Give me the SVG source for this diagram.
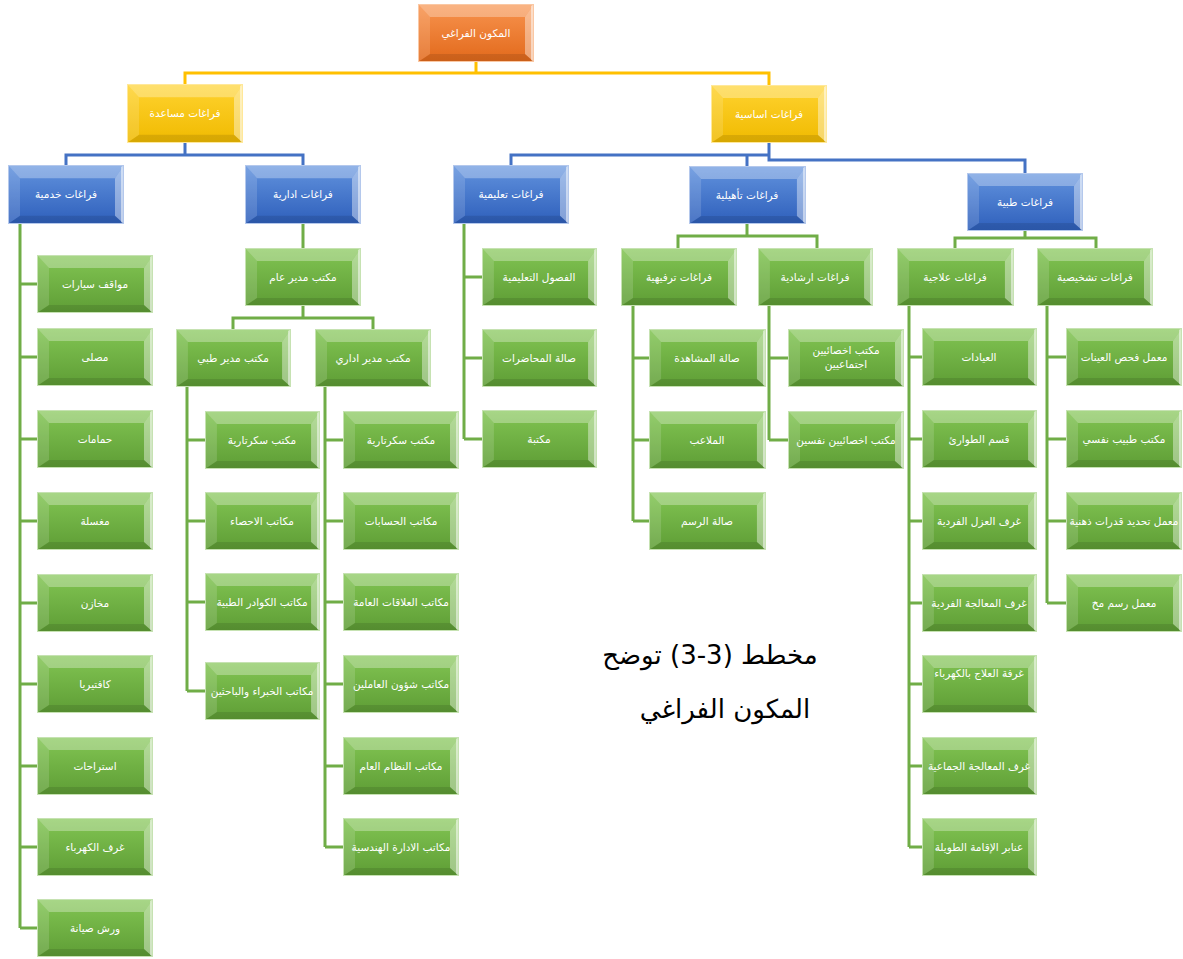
<svg xmlns="http://www.w3.org/2000/svg" xmlns:xlink="http://www.w3.org/1999/xlink" width="1183" height="959" viewBox="0 0 1183 959">
<defs>
<linearGradient id="gO" x1="0" y1="0" x2="0" y2="1"><stop offset="0" stop-color="#F8944F"/><stop offset="1" stop-color="#E2691B"/></linearGradient>
<linearGradient id="gY" x1="0" y1="0" x2="0" y2="1"><stop offset="0" stop-color="#FFD330"/><stop offset="1" stop-color="#F0BA00"/></linearGradient>
<linearGradient id="gB" x1="0" y1="0" x2="0" y2="1"><stop offset="0" stop-color="#6293DE"/><stop offset="1" stop-color="#2E5FBB"/></linearGradient>
<linearGradient id="gG" x1="0" y1="0" x2="0" y2="1"><stop offset="0" stop-color="#82C553"/><stop offset="1" stop-color="#5E9D35"/></linearGradient>
<g id="bevel">
<polygon points="0,0 116,0 107,13 12,13" fill="#fff" fill-opacity="0.3"/>
<polygon points="0,0 12,13 12,50 0,58" fill="#fff" fill-opacity="0.14"/>
<polygon points="116,0 116,58 107,50 107,13" fill="#fff" fill-opacity="0.4"/>
<polygon points="113,2 116,0 116,58 113,56" fill="#fff" fill-opacity="0.5"/>
<polygon points="0,58 116,58 107,50 12,50" fill="#000" fill-opacity="0.1"/>
</g>
<symbol id="bO" viewBox="0 0 116 58" preserveAspectRatio="none"><rect width="116" height="58" fill="url(#gO)"/><use href="#bevel"/><rect x="0.5" y="0.5" width="115" height="57" fill="none" stroke="#FAC8A4" stroke-width="1"/></symbol>
<symbol id="bY" viewBox="0 0 116 58" preserveAspectRatio="none"><rect width="116" height="58" fill="url(#gY)"/><use href="#bevel"/><rect x="0.5" y="0.5" width="115" height="57" fill="none" stroke="#FFE89A" stroke-width="1"/></symbol>
<symbol id="bB" viewBox="0 0 116 58" preserveAspectRatio="none"><rect width="116" height="58" fill="url(#gB)"/><use href="#bevel"/><rect x="0.5" y="0.5" width="115" height="57" fill="none" stroke="#B4C8EC" stroke-width="1"/></symbol>
<symbol id="bG" viewBox="0 0 116 58" preserveAspectRatio="none"><rect width="116" height="58" fill="url(#gG)"/><use href="#bevel"/><rect x="0.5" y="0.5" width="115" height="57" fill="none" stroke="#C6E2B2" stroke-width="1"/></symbol>
</defs>
<style>
.t{font-family:"DejaVu Sans",sans-serif;font-size:10.5px;fill:#fff;text-anchor:middle}
.title{font-family:"DejaVu Sans",sans-serif;font-size:26px;fill:#000;text-anchor:middle;direction:rtl}
.cy{fill:none;stroke:#FFC000;stroke-width:3}
.cb{fill:none;stroke:#4472C4;stroke-width:3}
.cg{fill:none;stroke:#70AD47;stroke-width:3}
</style>
<rect width="1183" height="959" fill="#fff"/>
<g id="connectors">
<path class="cy" d="M476,62 V73 M185,84 V73 H769 V85"/>
<path class="cb" d="M185,143 V155 M66,165 V155 H303 V165 M769,143 V155 H511 V165 M747,155 V166 M769,155 V160 H1025 V173"/>
<path class="cg" d="M20,224 V928 M20,284 H37 M20,357 H37 M20,439 H37 M20,521 H37 M20,603 H37 M20,684 H37 M20,766 H37 M20,847 H37 M20,928 H37"/>
<path class="cg" d="M303,224 V248 M303,306 V318 M233,329 V318 H373 V329"/>
<path class="cg" d="M187,387 V691 M187,440 H205 M187,521 H205 M187,602 H205 M187,691 H205"/>
<path class="cg" d="M325,387 V847 M325,440 H343 M325,521 H343 M325,602 H343 M325,684 H343 M325,766 H343 M325,847 H343"/>
<path class="cg" d="M464,224 V439 M464,277 H482 M464,358 H482 M464,439 H482"/>
<path class="cg" d="M747,224 V236 M678,248 V236 H817 V248"/>
<path class="cg" d="M633,306 V521 M633,358 H649 M633,440 H649 M633,521 H649"/>
<path class="cg" d="M769,306 V440 M769,358 H788 M769,440 H788"/>
<path class="cg" d="M1025,231 V238 M955,248 V238 H1096 V248"/>
<path class="cg" d="M909,306 V847 M909,357 H922 M909,439 H922 M909,521 H922 M909,603 H922 M909,684 H922 M909,766 H922 M909,847 H922"/>
<path class="cg" d="M1047,306 V603 M1047,357 H1066 M1047,439 H1066 M1047,521 H1066 M1047,603 H1066"/>
</g>
<g id="n0"><use href="#bO" x="418" y="4" width="116" height="58"/><text class="t" x="476" y="37">المكون الفراغي</text></g>
<g id="n1"><use href="#bY" x="127" y="84" width="116" height="59"/><text class="t" x="185" y="117">فراغات مساعدة</text></g>
<g id="n2"><use href="#bY" x="711" y="85" width="116" height="58"/><text class="t" x="769" y="118">فراغات اساسية</text></g>
<g id="n3"><use href="#bB" x="8" y="165" width="116" height="59"/><text class="t" x="66" y="198">فراغات خدمية</text></g>
<g id="n4"><use href="#bB" x="245" y="165" width="116" height="59"/><text class="t" x="303" y="198">فراغات ادارية</text></g>
<g id="n5"><use href="#bB" x="453" y="165" width="116" height="59"/><text class="t" x="511" y="198">فراغات تعليمية</text></g>
<g id="n6"><use href="#bB" x="689" y="166" width="117" height="58"/><text class="t" x="747" y="199">فراغات تأهيلية</text></g>
<g id="n7"><use href="#bB" x="967" y="173" width="116" height="58"/><text class="t" x="1025" y="206">فراغات طبية</text></g>
<g id="s1"><use href="#bG" x="37" y="255" width="116" height="58"/><text class="t" x="95" y="288">مواقف سيارات</text></g>
<g id="s2"><use href="#bG" x="37" y="328" width="116" height="58"/><text class="t" x="95" y="361">مصلى</text></g>
<g id="s3"><use href="#bG" x="37" y="410" width="116" height="58"/><text class="t" x="95" y="443">حمامات</text></g>
<g id="s4"><use href="#bG" x="37" y="492" width="116" height="58"/><text class="t" x="95" y="525">مغسلة</text></g>
<g id="s5"><use href="#bG" x="37" y="574" width="116" height="58"/><text class="t" x="95" y="607">مخازن</text></g>
<g id="s6"><use href="#bG" x="37" y="655" width="116" height="58"/><text class="t" x="95" y="688">كافتيريا</text></g>
<g id="s7"><use href="#bG" x="37" y="737" width="116" height="58"/><text class="t" x="95" y="770">استراحات</text></g>
<g id="s8"><use href="#bG" x="37" y="818" width="116" height="58"/><text class="t" x="95" y="851">غرف الكهرباء</text></g>
<g id="s9"><use href="#bG" x="37" y="899" width="116" height="58"/><text class="t" x="95" y="932">ورش صيانة</text></g>
<g id="a0"><use href="#bG" x="245" y="248" width="116" height="58"/><text class="t" x="303" y="281">مكتب مدير عام</text></g>
<g id="a1"><use href="#bG" x="176" y="329" width="115" height="58"/><text class="t" x="233" y="362">مكتب مدير طبي</text></g>
<g id="a2"><use href="#bG" x="315" y="329" width="116" height="58"/><text class="t" x="373" y="362">مكتب مدير اداري</text></g>
<g id="a11"><use href="#bG" x="205" y="411" width="115" height="58"/><text class="t" x="262" y="444">مكتب سكرتارية</text></g>
<g id="a12"><use href="#bG" x="205" y="492" width="115" height="58"/><text class="t" x="262" y="525">مكاتب الاحصاء</text></g>
<g id="a13"><use href="#bG" x="205" y="573" width="115" height="58"/><text class="t" x="262" y="606">مكاتب الكوادر الطبية</text></g>
<g id="a14"><use href="#bG" x="205" y="662" width="115" height="58"/><text class="t" x="262" y="695">مكاتب الخبراء والباحثين</text></g>
<g id="a21"><use href="#bG" x="343" y="411" width="116" height="58"/><text class="t" x="401" y="444">مكتب سكرتارية</text></g>
<g id="a22"><use href="#bG" x="343" y="492" width="116" height="58"/><text class="t" x="401" y="525">مكاتب الحسابات</text></g>
<g id="a23"><use href="#bG" x="343" y="573" width="116" height="58"/><text class="t" x="401" y="606">مكاتب العلاقات العامة</text></g>
<g id="a24"><use href="#bG" x="343" y="655" width="116" height="58"/><text class="t" x="401" y="688">مكاتب شؤون العاملين</text></g>
<g id="a25"><use href="#bG" x="343" y="737" width="116" height="58"/><text class="t" x="401" y="770">مكاتب النظام العام</text></g>
<g id="a26"><use href="#bG" x="343" y="818" width="116" height="58"/><text class="t" x="401" y="851">مكاتب الادارة الهندسية</text></g>
<g id="e1"><use href="#bG" x="482" y="248" width="115" height="58"/><text class="t" x="539" y="281">الفصول التعليمية</text></g>
<g id="e2"><use href="#bG" x="482" y="329" width="115" height="58"/><text class="t" x="539" y="362">صالة المحاضرات</text></g>
<g id="e3"><use href="#bG" x="482" y="410" width="115" height="58"/><text class="t" x="539" y="443">مكتبة</text></g>
<g id="r0"><use href="#bG" x="621" y="248" width="116" height="58"/><text class="t" x="679" y="281">فراغات ترفيهية</text></g>
<g id="g0"><use href="#bG" x="758" y="248" width="115" height="58"/><text class="t" x="815" y="281">فراغات ارشادية</text></g>
<g id="r1"><use href="#bG" x="649" y="329" width="117" height="58"/><text class="t" x="707" y="362">صالة المشاهدة</text></g>
<g id="r2"><use href="#bG" x="649" y="411" width="117" height="58"/><text class="t" x="707" y="444">الملاعب</text></g>
<g id="r3"><use href="#bG" x="649" y="492" width="117" height="58"/><text class="t" x="707" y="525">صالة الرسم</text></g>
<g id="g1"><use href="#bG" x="788" y="329" width="116" height="58"/><text class="t" x="846" y="354">مكتب اخصائيين</text><text class="t" x="846" y="368">اجتماعيين</text></g>
<g id="g2"><use href="#bG" x="788" y="411" width="116" height="58"/><text class="t" x="846" y="444">مكتب اخصائيين نفسين</text></g>
<g id="m1"><use href="#bG" x="897" y="248" width="117" height="58"/><text class="t" x="955" y="281">فراغات علاجية</text></g>
<g id="m2"><use href="#bG" x="1037" y="248" width="116" height="58"/><text class="t" x="1095" y="281">فراغات تشخيصية</text></g>
<g id="m11"><use href="#bG" x="922" y="328" width="115" height="58"/><text class="t" x="979" y="361">العيادات</text></g>
<g id="m12"><use href="#bG" x="922" y="410" width="115" height="58"/><text class="t" x="979" y="443">قسم الطوارئ</text></g>
<g id="m13"><use href="#bG" x="922" y="492" width="115" height="58"/><text class="t" x="979" y="525">غرف العزل الفردية</text></g>
<g id="m14"><use href="#bG" x="922" y="574" width="115" height="58"/><text class="t" x="979" y="607">غرف المعالجة الفردية</text></g>
<g id="m15"><use href="#bG" x="922" y="655" width="115" height="58"/><text class="t" x="979" y="677">غرفة العلاج بالكهرباء</text></g>
<g id="m16"><use href="#bG" x="922" y="737" width="115" height="58"/><text class="t" x="979" y="770">غرف المعالجة الجماعية</text></g>
<g id="m17"><use href="#bG" x="922" y="818" width="115" height="58"/><text class="t" x="979" y="851">عنابر الإقامة الطويلة</text></g>
<g id="m21"><use href="#bG" x="1066" y="328" width="116" height="58"/><text class="t" x="1124" y="361">معمل فحص العينات</text></g>
<g id="m22"><use href="#bG" x="1066" y="410" width="116" height="58"/><text class="t" x="1124" y="443">مكتب طبيب نفسي</text></g>
<g id="m23"><use href="#bG" x="1066" y="492" width="116" height="58"/><text class="t" x="1124" y="525">معمل تحديد قدرات ذهنية</text></g>
<g id="m24"><use href="#bG" x="1066" y="574" width="116" height="58"/><text class="t" x="1124" y="607">معمل رسم مخ</text></g>
<g id="caption"><text class="title" x="710" y="664">مخطط (3-3) توضح</text><text class="title" x="725" y="718">المكون الفراغي</text></g>
</svg>
